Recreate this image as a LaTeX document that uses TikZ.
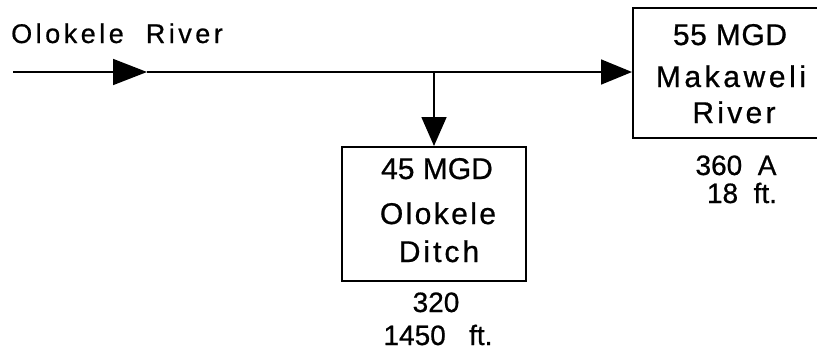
\documentclass[tikz,border=0pt]{standalone}
\usepackage{fontspec}
\setmainfont{Liberation Sans}
\usetikzlibrary{arrows.meta}
\newcommand\lsp[2]{{\addfontfeature{LetterSpace=#1}#2}}
\newcommand\heavy{\addfontfeature{FakeBold=0.7}}
\begin{document}
\begin{tikzpicture}[x=1pt,y=-1pt,
  box/.style={draw, line width=2pt, inner sep=0pt},
  lbl/.style={anchor=base, inner sep=0pt, font=\fontsize{30}{30}\selectfont\heavy},
  sub/.style={anchor=base, inner sep=0pt, font=\fontsize{28}{28}\selectfont\heavy},
  flow/.style={line width=1.7pt},
  tipA/.style={-{Triangle[length=34pt,width=26pt]}},
  tipB/.style={-{Triangle[length=31pt,width=25pt]}}
]
\useasboundingbox (0,0) rectangle (817,351);
\clip (0,0) rectangle (817,351);

% boxes
\node[box, minimum width=184pt, minimum height=134pt] (ditch) at (434,214) {};
\node[box, minimum width=210pt, minimum height=130pt] (mak) at (738,73) {};

% river line
\node[anchor=base west, inner sep=0pt, font=\fontsize{27}{27}\selectfont\heavy] (title) at (11,43) {\lsp{13}{Olokele~~River}};
\coordinate (src) at (13,72);
\coordinate (ta) at (147,72);
\coordinate (jn) at (434,72);
\draw[flow, tipA] (src) -- (ta);
\draw[flow] (ta) -- (jn);
\draw[flow, tipB] (jn) -- (jn -| mak.west);
\draw[flow, -{Triangle[length=29pt,width=25pt]}] (jn) -- (ditch.north);

% Makaweli labels
\node[lbl] (m1) at (730,45) {\lsp{2}{55 MGD}};
\node[lbl] (m2) at (731,87) {\lsp{12}{Makaweli}};
\node[lbl] (m3) at (734,123) {\lsp{11}{River}};
\node[sub] (m4) at (736,175) {360~~A};
\node[sub] (m5) at (742,203) {18~~ft.};

% Ditch labels
\node[lbl] (d1) at (437,179) {45 MGD};
\node[lbl] (d2) at (438,224) {\lsp{8}{Olokele}};
\node[lbl] (d3) at (439,262) {\lsp{10}{Ditch}};
\node[sub] (d4) at (436,312) {320};
\node[sub] (d5) at (438,345) {1450~~~ft.};
\end{tikzpicture}
\end{document}
